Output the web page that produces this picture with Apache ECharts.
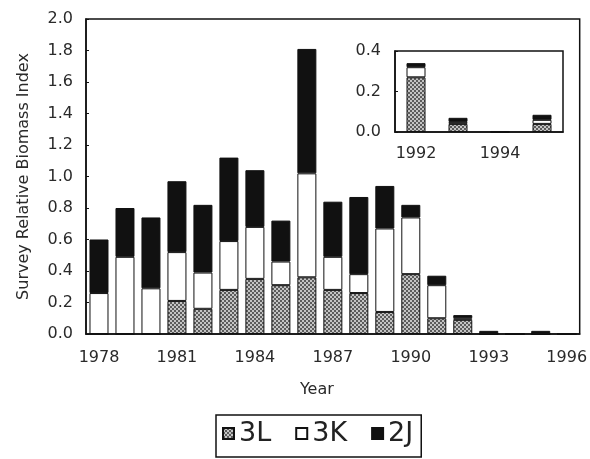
<!DOCTYPE html>
<html>
<head>
<meta charset="utf-8">
<script src="https://cdn.jsdelivr.net/npm/echarts@6/dist/echarts.min.js"></script>
<style>
  html, body { margin: 0; padding: 0; background: #fff; }
  #chart { width: 590px; height: 459px; }
</style>
</head>
<body>
<div id="chart"></div>
<script>
const years = ['1978', '1979', '1980', '1981', '1982', '1983', '1984', '1985', '1986', '1987',
  '1988', '1989', '1990', '1991', '1992', '1993', '1994', '1995', '1996']
const values3L = [0, 0, 0, 0.21, 0.16, 0.28, 0.35, 0.31, 0.36, 0.28, 0.26, 0.14, 0.38, 0.10, 0.09, 0, 0, 0, 0]
const values3K = [0.26, 0.49, 0.29, 0.31, 0.23, 0.31, 0.33, 0.15, 0.66, 0.21, 0.12, 0.53, 0.36, 0.21, 0.01, 0, 0, 0, 0]
const values2J = [0.34, 0.31, 0.45, 0.45, 0.43, 0.53, 0.36, 0.26, 0.79, 0.35, 0.49, 0.27, 0.08, 0.06, 0.02, 0.02, 0, 0.02, 0]

// inset, 1992-1995
const insetYears = ['1992', '1993', '1994', '1995']
const inset3L = [0.27, 0.04, 0, 0.04]
const inset3K = [0.05, 0.01, 0, 0.02]
const inset2J = [0.02, 0.02, 0.005, 0.025]

// stippled fill for 3L
const dots = document.createElement('canvas')
dots.width = 4
dots.height = 4
const ctx = dots.getContext('2d')
ctx.fillStyle = '#c4c4c4'
ctx.fillRect(0, 0, 4, 4)
ctx.fillStyle = '#5c5c5c'
ctx.fillRect(0, 0, 2, 2)
ctx.fillRect(2, 2, 2, 2)
const dotFill = { image: dots, repeat: 'repeat' }

const font = 'DejaVu Sans'
const tickText = { fontFamily: font, fontSize: 16, color: '#2a2a2a' }

const styles = {
  '3L': { color: dotFill, borderColor: '#111', borderWidth: 1 },
  '3K': { color: '#fff', borderColor: '#111', borderWidth: 1 },
  '2J': { color: '#111', borderColor: '#111', borderWidth: 1 },
}

function bars(name, data, axis, stack) {
  return {
    name: name,
    type: 'bar',
    stack: stack,
    xAxisIndex: axis,
    yAxisIndex: axis,
    barWidth: 19,
    data: data,
    itemStyle: styles[name],
    emphasis: { disabled: true },
  }
}

const option = {
  animation: false,
  grid: [
    { left: 86, right: 8, top: 19, bottom: 125, show: true, borderColor: '#111', borderWidth: 1.5 },
    { left: 395, right: 27, top: 51, bottom: 327, show: true, borderColor: '#111', borderWidth: 1.5 },
  ],
  legend: {
    left: 216,
    top: 415,
    data: ['3L', '3K', '2J'],
    icon: 'rect',
    itemWidth: 11,
    itemHeight: 11,
    itemGap: 24,
    padding: [5, 8, 10, 6],
    borderColor: '#111',
    borderWidth: 1.5,
    textStyle: { fontFamily: font, fontSize: 27, color: '#222' },
  },
  xAxis: [
    {
      type: 'category',
      gridIndex: 0,
      data: years,
      name: 'Year',
      nameLocation: 'middle',
      nameGap: 48,
      nameTextStyle: { fontFamily: font, fontSize: 16, color: '#2a2a2a', padding: [0, 32, 0, 0] },
      axisLine: { lineStyle: { color: '#111', width: 1.5 } },
      axisTick: { inside: true, length: 4, interval: 0, lineStyle: { color: '#111' } },
      axisLabel: { ...tickText, interval: 2, margin: 16 },
    },
    {
      type: 'category',
      gridIndex: 1,
      data: insetYears,
      axisLine: { lineStyle: { color: '#111', width: 1.5 } },
      axisTick: { show: false },
      axisLabel: { ...tickText, interval: 1, margin: 14 },
    },
  ],
  yAxis: [
    {
      type: 'value',
      gridIndex: 0,
      min: 0,
      max: 2,
      interval: 0.2,
      name: 'Survey Relative Biomass Index',
      nameLocation: 'middle',
      nameGap: 54,
      nameTextStyle: { fontFamily: font, fontSize: 16, color: '#2a2a2a' },
      axisLine: { show: true, lineStyle: { color: '#111', width: 1.5 } },
      axisTick: { show: true, inside: true, length: 3, lineStyle: { color: '#111' } },
      axisLabel: { ...tickText, margin: 13, formatter: (v) => v.toFixed(1) },
      splitLine: { show: false },
    },
    {
      type: 'value',
      gridIndex: 1,
      min: 0,
      max: 0.4,
      interval: 0.2,
      axisLine: { show: true, lineStyle: { color: '#111', width: 1.5 } },
      axisTick: { show: true, inside: true, length: 3, lineStyle: { color: '#111' } },
      axisLabel: { ...tickText, margin: 14, formatter: (v) => v.toFixed(1) },
      splitLine: { show: false },
    },
  ],
  series: [
    bars('3L', values3L, 0, 'main'),
    bars('3K', values3K, 0, 'main'),
    bars('2J', values2J, 0, 'main'),
    bars('3L', inset3L, 1, 'inset'),
    bars('3K', inset3K, 1, 'inset'),
    bars('2J', inset2J, 1, 'inset'),
  ],
}

const chart = echarts.init(document.getElementById('chart'))
chart.setOption(option)
</script>
</body>
</html>
